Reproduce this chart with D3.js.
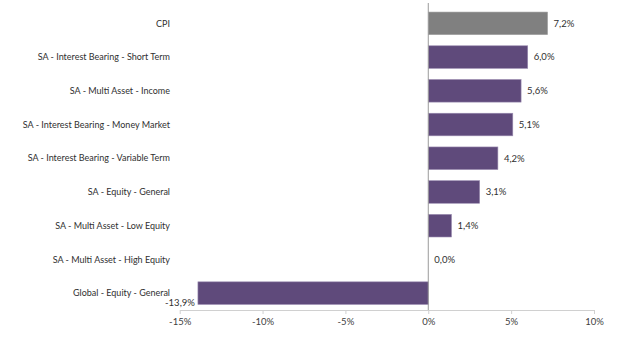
<!DOCTYPE html>
<html><head><meta charset="utf-8">
<script src="https://cdn.jsdelivr.net/npm/d3@7"></script>
<style>body{margin:0;background:#fff}svg{display:block}</style>
</head><body>
<svg id="c" width="633" height="361"></svg>
<script>
const categories = ["CPI","SA - Interest Bearing - Short Term","SA - Multi Asset - Income","SA - Interest Bearing - Money Market","SA - Interest Bearing - Variable Term","SA - Equity - General","SA - Multi Asset - Low Equity","SA - Multi Asset - High Equity","Global - Equity - General"];
const values = [7.2, 6.0, 5.6, 5.1, 4.2, 3.1, 1.4, 0.0, -13.9];
const ticks = [-15, -10, -5, 0, 5, 10];
const tickLabels = ["-15%","-10%","-5%","0%","5%","10%"];

const svg = d3.select("#c");
const font = "Lato, 'Open Sans', sans-serif";
const x = d3.scaleLinear().domain([-15, 10]).range([179.7, 594]);
const y = d3.scaleBand().domain(categories).range([6.5, 310]).paddingInner(0.33).paddingOuter(0.165);

// axis
const ax = svg.append("g").attr("transform", "translate(0,310)")
  .call(d3.axisBottom(x).tickValues(ticks).tickFormat((d,i)=>tickLabels[i]).tickSize(4).tickSizeOuter(0));
ax.select(".domain").attr("stroke", "#d0d0d0");
ax.selectAll(".tick line").attr("stroke", "#d0d0d0");
ax.selectAll(".tick text").attr("fill", "#404040").attr("font-family", font).attr("font-size", 9.5).attr("dy", "0.85em");

// bars
svg.append("g").selectAll("rect").data(values).join("rect")
  .attr("x", d => x(Math.min(0, d)))
  .attr("width", d => Math.abs(x(d) - x(0)))
  .attr("y", (d,i) => y(categories[i]))
  .attr("height", y.bandwidth())
  .attr("fill", (d,i) => i === 0 ? "#808080" : "#5f4a7b")
  .attr("stroke", (d,i) => i === 0 ? "#a0a0a0" : "#9a8bb0").attr("stroke-width", 0.6);

// zero line
svg.append("line").attr("x1", x(0)).attr("x2", x(0)).attr("y1", 3).attr("y2", 310)
  .attr("stroke", "#9a9a9a").attr("stroke-width", 1);

// category labels
svg.append("g").selectAll("text").data(categories).join("text")
  .attr("x", 170).attr("y", d => y(d) + y.bandwidth()/2).attr("dy", "0.35em")
  .attr("text-anchor", "end").attr("font-family", font).attr("font-size", 9).attr("fill", "#303030")
  .text(d => d);

// value labels
const fmt = v => v.toFixed(1).replace(".", ",") + "%";
svg.append("g").selectAll("text").data(values).join("text")
  .attr("x", d => d < 0 ? x(d) - 3 : x(d) + 6)
  .attr("y", (d,i) => d < 0 ? y(categories[i]) + y.bandwidth() + 2 : y(categories[i]) + y.bandwidth()/2)
  .attr("dy", d => d < 0 ? "0" : "0.35em")
  .attr("text-anchor", d => d < 0 ? "end" : "start")
  .attr("font-family", font).attr("font-size", 9.5).attr("fill", "#303030")
  .text(d => fmt(d));
</script>
</body></html>
